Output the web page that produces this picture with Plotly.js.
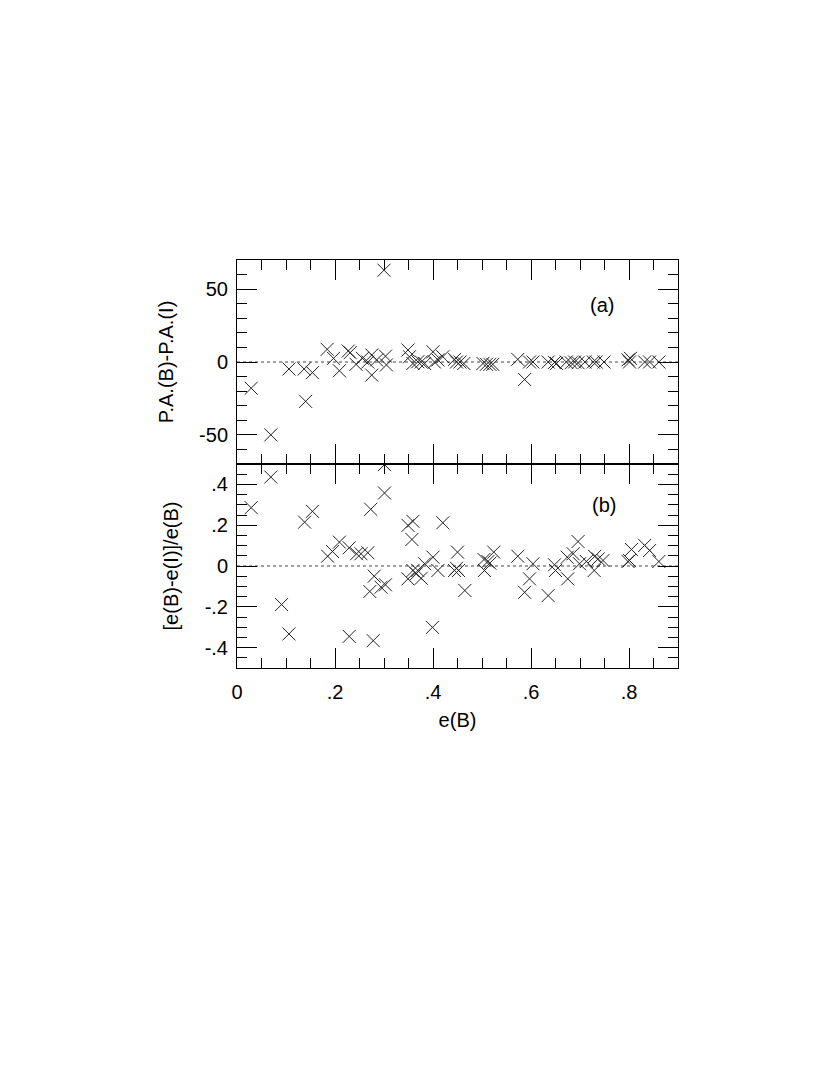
<!DOCTYPE html>
<html><head><meta charset="utf-8">
<script src="https://cdn.plot.ly/plotly-3.0.1.min.js"></script>
<style>html,body{margin:0;padding:0;background:#fff}</style>
</head><body><div id="chart" style="width:830px;height:1075px"></div>
<script>
// Panel (a): position-angle difference vs e(B)
const paX = [0.029,0.069,0.106,0.137,0.140,0.154,0.184,0.197,0.209,0.227,0.231,0.243,0.256,0.267,0.275,0.275,0.285,0.300,0.303,0.305,
  0.349,0.352,0.359,0.369,0.376,0.383,0.400,0.403,0.410,0.420,0.444,0.448,0.455,0.463,0.502,0.509,0.516,0.522,0.573,0.587,
  0.597,0.604,0.635,0.648,0.652,0.672,0.682,0.689,0.696,0.710,0.727,0.733,0.749,0.798,0.801,0.803,0.832,0.842,0.861];
const paY = [-18,-50,-4.8,-4.8,-27,-7.3,8.7,2.5,-6,7.5,6.4,-1.6,2.5,0,4.8,-9,1.4,63,4,-2,
  8.2,3.6,-1,0.2,0,-1,7,0,1.4,3.6,1.8,0,0,-1,-1,-1.6,-1.6,-1.6,1.8,-12,
  0,0,0,-0.3,-1,0,-0.5,0,-0.5,0,0,0,0,1.5,0,2.5,0,0,0];
// Panel (b): relative ellipticity difference vs e(B)
const elX = [0.029,0.069,0.091,0.106,0.138,0.154,0.185,0.195,0.209,0.229,0.229,0.244,0.253,0.267,0.273,0.278,0.280,0.271,0.294,0.303,
  0.301,0.301,0.349,0.359,0.357,0.349,0.359,0.369,0.366,0.376,0.383,0.400,0.410,0.420,0.399,0.450,0.448,0.452,0.444,0.465,
  0.504,0.505,0.512,0.516,0.524,0.573,0.587,0.597,0.604,0.635,0.648,0.650,0.675,0.674,0.686,0.696,0.699,0.713,0.730,0.729,
  0.737,0.747,0.798,0.801,0.805,0.832,0.842,0.861];
const elY = [0.286,0.436,-0.189,-0.333,0.215,0.268,0.048,0.071,0.117,0.089,-0.345,0.060,0.060,0.065,0.278,-0.366,-0.050,-0.125,-0.104,-0.092,
  0.358,0.497,0.199,0.219,0.130,-0.063,-0.022,-0.022,-0.038,-0.060,0.011,0.043,-0.022,0.212,-0.301,0.068,-0.011,-0.022,-0.022,-0.120,
  0.032,-0.022,0.022,0.014,0.068,0.048,-0.129,-0.063,0.011,-0.145,0.006,-0.022,-0.063,0.043,0.060,0.120,0.011,0.022,0.047,-0.022,
  0.035,0.027,0.022,0.027,0.081,0.101,0.076,0.022];

// Tick labels
const xTickVals = [0,0.2,0.4,0.6,0.8];
const xTickText = ['0','.2','.4','.6','.8'];
const paTickVals = [-50,0,50];
const paTickText = ['-50','0','50'];
const elTickVals = [-0.4,-0.2,0,0.2,0.4];
const elTickText = ['-.4','-.2','0','.2','.4'];
const panelLabels = ['(a)','(b)'];
const titles = {x:'e(B)', ya:'P.A.(B)-P.A.(I)', yb:'[e(B)-e(I)]/e(B)'};

function alias(vals, texts){
  const o = {};
  vals.forEach((v,i)=>{
    const s = (v<0 ? '\u2212' : '') + String(Math.abs(v));
    o[s] = texts[i];
  });
  return o;
}

const FONT = 'Liberation Sans, Arial, Helvetica, sans-serif';
const FS = 20;
const mk = {symbol:'x-thin-open', size:13, color:'#222', line:{width:1, color:'#222'}};

const traces = [
  {x:paX, y:paY, xaxis:'x2', yaxis:'y', type:'scatter', mode:'markers', marker:mk, hoverinfo:'skip'},
  {x:elX, y:elY, xaxis:'x', yaxis:'y2', type:'scatter', mode:'markers', marker:mk, hoverinfo:'skip'}
];

const axCommon = {
  showline:true, linecolor:'#000', linewidth:1, mirror:'allticks',
  ticks:'inside', tickcolor:'#000', tickwidth:1, showgrid:false, zeroline:false,
  tickfont:{family:FONT, size:FS, color:'#000'}
};

const layout = {
  width:830, height:1075,
  margin:{l:237, r:152, t:260, b:407},
  paper_bgcolor:'#fff', plot_bgcolor:'#fff',
  showlegend:false,
  font:{family:FONT, color:'#000'},
  xaxis: Object.assign({}, axCommon, {
    domain:[0,1], anchor:'y2', range:[0,0.9], tick0:0, dtick:0.2, ticklen:20,
    minor:{dtick:0.05, tick0:0, ticklen:10, ticks:'inside', tickcolor:'#000'},
    labelalias: alias(xTickVals, xTickText), ticklabelstandoff:6,
    title:{text:titles.x, font:{family:FONT, size:FS, color:'#000'}, standoff:10}
  }),
  xaxis2: Object.assign({}, axCommon, {
    domain:[0,1], anchor:'y', matches:'x', range:[0,0.9], tick0:0, dtick:0.2, ticklen:20,
    minor:{dtick:0.05, tick0:0, ticklen:10, ticks:'inside', tickcolor:'#000'},
    showticklabels:false
  }),
  yaxis: Object.assign({}, axCommon, {
    domain:[0.5,1], anchor:'x2', range:[-70,70], tick0:0, dtick:50, ticklen:20,
    minor:{dtick:10, tick0:0, ticklen:10, ticks:'inside', tickcolor:'#000'},
    labelalias: alias(paTickVals, paTickText), ticklabelstandoff:4,
    title:{text:titles.ya, font:{family:FONT, size:FS, color:'#000'}, standoff:20}
  }),
  yaxis2: Object.assign({}, axCommon, {
    domain:[0,0.5], anchor:'x', range:[-0.5,0.5], tick0:0, dtick:0.2, ticklen:20,
    minor:{dtick:0.05, tick0:0, ticklen:10, ticks:'inside', tickcolor:'#000'},
    labelalias: alias(elTickVals, elTickText), ticklabelstandoff:4,
    title:{text:titles.yb, font:{family:FONT, size:FS, color:'#000'}, standoff:20}
  }),
  shapes:[
    {type:'line', xref:'x2', yref:'y', x0:0, x1:0.9, y0:0, y1:0, layer:'below', line:{color:'#444', width:1, dash:'dot'}},
    {type:'line', xref:'x', yref:'y2', x0:0, x1:0.9, y0:0, y1:0, layer:'below', line:{color:'#444', width:1, dash:'dot'}}
  ],
  annotations:[
    {xref:'x2', yref:'y', x:0.745, y:39, text:panelLabels[0], showarrow:false, font:{family:FONT, size:FS, color:'#000'}},
    {xref:'x', yref:'y2', x:0.748, y:0.297, text:panelLabels[1], showarrow:false, font:{family:FONT, size:FS, color:'#000'}}
  ]
};

Plotly.newPlot('chart', traces, layout, {staticPlot:true, displayModeBar:false});
</script>
</body></html>
